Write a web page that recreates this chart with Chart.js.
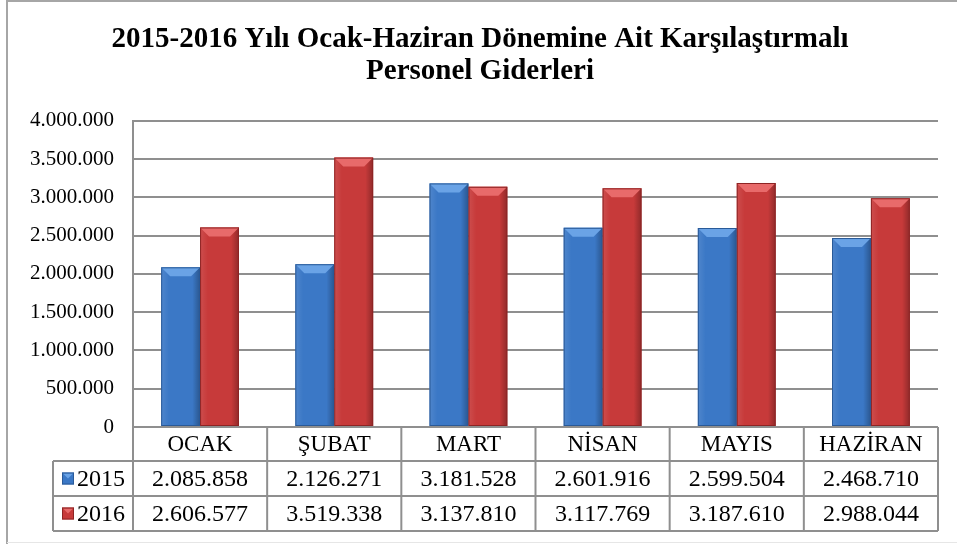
<!DOCTYPE html>
<html>
<head>
<meta charset="utf-8">
<script src="https://cdn.jsdelivr.net/npm/chart.js@4/dist/chart.umd.min.js"></script>
<style>
  html, body { margin: 0; padding: 0; background: #ffffff; }
  #wrap { width: 957px; height: 544px; }
</style>
</head>
<body>
<div id="wrap"><canvas id="c" width="957" height="544"></canvas></div>
<script>
const categories = ['OCAK', 'ŞUBAT', 'MART', 'NİSAN', 'MAYIS', 'HAZİRAN'];
const seriesNames = ['2015', '2016'];
const values2015 = [2085858, 2126271, 3181528, 2601916, 2599504, 2468710];
const values2016 = [2606577, 3519338, 3137810, 3117769, 3187610, 2988044];
const yTicks = [0, 500000, 1000000, 1500000, 2000000, 2500000, 3000000, 3500000, 4000000];
const titleLines = ['2015-2016 Yılı Ocak-Haziran Dönemine Ait Karşılaştırmalı', 'Personel Giderleri'];

const SERIF = "'Liberation Serif', 'Times New Roman', serif";
const LINE = '#8f8f8f';
const colors = [
  { body: '#3b78c6', light: '#6aa3e6', dark: '#2a5a98' },
  { body: '#c73a3a', light: '#e86a6a', dark: '#8e2424' }
];

function fmt(v) {
  return String(Math.round(v)).replace(/\B(?=(\d{3})+(?!\d))/g, '.');
}

const framePlugin = {
  id: 'frame',
  beforeDraw(chart) {
    const ctx = chart.ctx;
    ctx.save();
    ctx.fillStyle = '#ffffff';
    ctx.fillRect(0, 0, chart.width, chart.height);
    ctx.strokeStyle = '#a6a6a6';
    ctx.lineWidth = 2;
    ctx.beginPath();
    ctx.moveTo(7, chart.height);
    ctx.lineTo(7, 1);
    ctx.lineTo(chart.width, 1);
    ctx.stroke();
    ctx.strokeStyle = '#e6e6e6';
    ctx.lineWidth = 1;
    ctx.beginPath();
    ctx.moveTo(7, chart.height - 1.5);
    ctx.lineTo(chart.width, chart.height - 1.5);
    ctx.stroke();
    ctx.restore();
  }
};

const bevelPlugin = {
  id: 'bevel',
  afterDatasetsDraw(chart) {
    const ctx = chart.ctx;
    ctx.save();
    chart.data.datasets.forEach((ds, di) => {
      const meta = chart.getDatasetMeta(di);
      const c = colors[di];
      meta.data.forEach(bar => {
        const w = bar.width, x0 = bar.x - w / 2, x1 = bar.x + w / 2;
        const top = bar.y, base = bar.base;
        const b = 9;
        let g = ctx.createLinearGradient(x0, 0, x1, 0);
        g.addColorStop(0, 'rgba(255,255,255,0.10)');
        g.addColorStop(0.2, 'rgba(255,255,255,0.0)');
        g.addColorStop(0.8, 'rgba(0,0,0,0.0)');
        g.addColorStop(1, 'rgba(0,0,0,0.28)');
        ctx.fillStyle = g;
        ctx.fillRect(x0, top, w, base - top);
        ctx.fillStyle = c.light;
        ctx.beginPath();
        ctx.moveTo(x0, top);
        ctx.lineTo(x1, top);
        ctx.lineTo(x1 - b, top + b);
        ctx.lineTo(x0 + b, top + b);
        ctx.closePath();
        ctx.fill();
        ctx.strokeStyle = c.dark;
        ctx.lineWidth = 1;
        ctx.strokeRect(x0 + 0.5, top + 0.5, w - 1, base - top - 1);
      });
    });
    ctx.restore();
  }
};

const tablePlugin = {
  id: 'dataTable',
  afterDraw(chart) {
    const ctx = chart.ctx;
    const { left, right, bottom } = chart.chartArea;
    const xs = chart.scales.x;
    const n = categories.length;
    const cw = (right - left) / n;
    const legendLeft = 53;
    const hdrBottom = bottom + 34;
    const rowH = 35;
    const rows = [values2015, values2016];
    const tableBottom = hdrBottom + rowH * rows.length;

    ctx.save();
    ctx.strokeStyle = LINE;
    ctx.lineWidth = 2;
    ctx.beginPath();
    for (let r = 0; r <= rows.length; r++) {
      const y = hdrBottom + r * rowH;
      ctx.moveTo(legendLeft, y);
      ctx.lineTo(right, y);
    }
    for (let i = 0; i <= n; i++) {
      const x = left + i * cw;
      ctx.moveTo(x, bottom);
      ctx.lineTo(x, tableBottom);
    }
    ctx.moveTo(legendLeft, hdrBottom);
    ctx.lineTo(legendLeft, tableBottom);
    ctx.stroke();

    ctx.fillStyle = '#000000';
    ctx.textAlign = 'center';
    ctx.textBaseline = 'middle';
    categories.forEach((cat, i) => {
      const cx = xs.getPixelForValue(i);
      ctx.font = '23px ' + SERIF;
      ctx.fillText(cat, cx, bottom + 18);
      ctx.font = '24px ' + SERIF;
      rows.forEach((vals, r) => {
        ctx.fillText(fmt(vals[i]), cx, hdrBottom + r * rowH + rowH / 2 + 1);
      });
    });
    rows.forEach((vals, r) => {
      const cy = hdrBottom + r * rowH + rowH / 2;
      const c = colors[r];
      ctx.fillStyle = c.body;
      ctx.fillRect(62, cy - 6, 12, 12);
      ctx.fillStyle = c.light;
      ctx.beginPath();
      ctx.moveTo(63, cy - 5);
      ctx.lineTo(73, cy - 5);
      ctx.lineTo(68, cy);
      ctx.closePath();
      ctx.fill();
      ctx.strokeStyle = c.dark;
      ctx.lineWidth = 1;
      ctx.strokeRect(62.5, cy - 5.5, 11, 11);
      ctx.fillStyle = '#000000';
      ctx.textAlign = 'left';
      ctx.font = '24px ' + SERIF;
      ctx.fillText(seriesNames[r], 77, cy + 1);
    });
    ctx.restore();
  }
};

new Chart(document.getElementById('c'), {
  type: 'bar',
  data: {
    labels: categories,
    datasets: [
      { label: seriesNames[0], data: values2015, backgroundColor: colors[0].body, borderWidth: 0 },
      { label: seriesNames[1], data: values2016, backgroundColor: colors[1].body, borderWidth: 0 }
    ]
  },
  options: {
    responsive: false,
    animation: false,
    devicePixelRatio: 1,
    layout: { padding: { left: 22, right: 19, top: 0, bottom: 117 } },
    datasets: { bar: { categoryPercentage: 0.58, barPercentage: 1.0 } },
    plugins: {
      legend: { display: false },
      tooltip: { enabled: false },
      title: {
        display: true,
        text: titleLines,
        color: '#000000',
        font: { family: SERIF, size: 29, weight: 'bold', lineHeight: 1.1 },
        padding: { top: 24, bottom: 33 }
      }
    },
    scales: {
      x: { display: false },
      y: {
        min: 0,
        max: 4000000,
        afterBuildTicks(scale) { scale.ticks = yTicks.map(v => ({ value: v })); },
        afterFit(scale) { scale.width = 111; },
        ticks: {
          color: '#000000',
          font: { family: SERIF, size: 21 },
          padding: 19,
          callback: v => fmt(v)
        },
        grid: { color: LINE, lineWidth: 2, drawTicks: false },
        border: { display: true, color: LINE, width: 2 }
      }
    }
  },
  plugins: [framePlugin, bevelPlugin, tablePlugin]
});
</script>
</body>
</html>
